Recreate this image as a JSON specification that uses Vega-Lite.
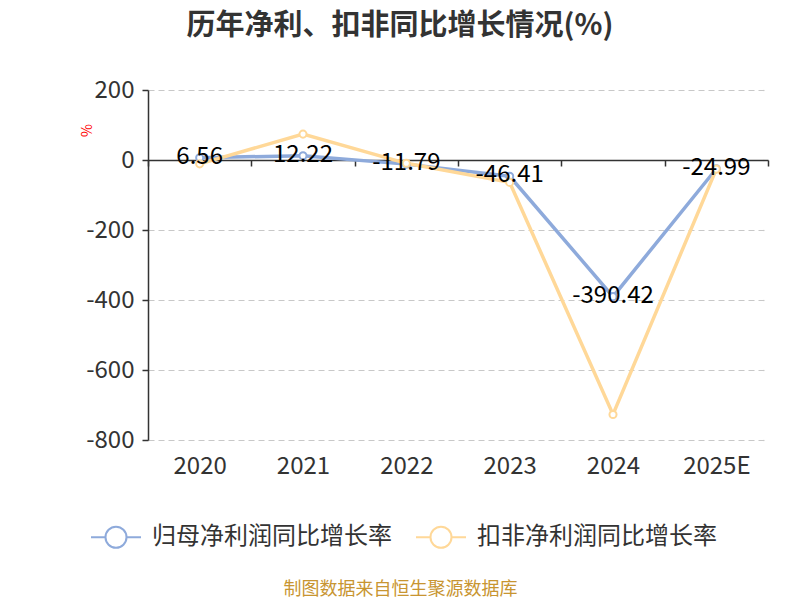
{
  "$schema": "https://vega.github.io/schema/vega-lite/v6.json",
  "width": 620,
  "height": 350,
  "autosize": "none",
  "padding": {"left": 148, "top": 90, "right": 32, "bottom": 160},
  "background": "white",
  "title": {
    "text": "历年净利、扣非同比增长情况(%)",
    "fontSize": 29,
    "fontWeight": "bold",
    "color": "#333333",
    "font": "Noto Sans CJK SC",
    "anchor": "middle",
    "dx": -58,
    "offset": 37
  },
  "config": {
    "view": {"stroke": null},
    "font": "Noto Sans CJK SC"
  },
  "data": {
    "values": [
      {"year": "2020", "series": "归母净利润同比增长率", "value": 6.56, "label": "6.56"},
      {"year": "2021", "series": "归母净利润同比增长率", "value": 12.22, "label": "12.22"},
      {"year": "2022", "series": "归母净利润同比增长率", "value": -11.79, "label": "-11.79"},
      {"year": "2023", "series": "归母净利润同比增长率", "value": -46.41, "label": "-46.41"},
      {"year": "2024", "series": "归母净利润同比增长率", "value": -390.42, "label": "-390.42"},
      {"year": "2025E", "series": "归母净利润同比增长率", "value": -24.99, "label": "-24.99"},
      {"year": "2020", "series": "扣非净利润同比增长率", "value": -11, "label": ""},
      {"year": "2021", "series": "扣非净利润同比增长率", "value": 74, "label": ""},
      {"year": "2022", "series": "扣非净利润同比增长率", "value": -9.5, "label": ""},
      {"year": "2023", "series": "扣非净利润同比增长率", "value": -64, "label": ""},
      {"year": "2024", "series": "扣非净利润同比增长率", "value": -727, "label": ""},
      {"year": "2025E", "series": "扣非净利润同比增长率", "value": -26, "label": ""}
    ]
  },
  "encoding": {
    "x": {
      "field": "year",
      "type": "ordinal",
      "sort": null,
      "bandPosition": 0.5,
      "scale": {"type": "band", "paddingInner": 0, "paddingOuter": 0},
      "axis": {
        "title": "制图数据来自恒生聚源数据库",
        "titleColor": "#c89531",
        "titleFontSize": 18,
        "titleFontWeight": "normal",
        "titleX": 252,
        "titleY": 429,
        "titleAlign": "center",
        "titleBaseline": "middle",
        "titleAnchor": null,
        "offset": -280,
        "labelAngle": 0,
        "labelFontSize": 24,
        "labelColor": "#333333",
        "labelPadding": 288,
        "tickBand": "extent",
        "tickSize": 6,
        "tickColor": "#333333",
        "tickWidth": 1.5,
        "domainColor": "#333333",
        "domainWidth": 1.5,
        "grid": false
      }
    },
    "y": {
      "field": "value",
      "type": "quantitative",
      "scale": {"domain": [-800, 200], "nice": false, "zero": false},
      "axis": {
        "values": [-800, -600, -400, -200, 0, 200],
        "labelExpr": "replace(datum.label, '\u2212', '-')",
        "title": "%",
        "titleColor": "#ff0000",
        "titleFontSize": 14,
        "titleFontWeight": "normal",
        "titleX": -61,
        "titleY": 40,
        "titleAngle": -90,
        "titleAlign": "center",
        "titleBaseline": "middle",
        "titleAnchor": null,
        "labelFontSize": 24,
        "labelColor": "#333333",
        "labelPadding": 8,
        "tickSize": 6,
        "tickColor": "#333333",
        "tickWidth": 1.5,
        "domainColor": "#333333",
        "domainWidth": 1.5,
        "grid": true,
        "gridColor": "#c8c8c8",
        "gridDash": [6, 4],
        "gridWidth": 1.2
      }
    }
  },
  "layer": [
    {
      "mark": {"type": "line", "strokeWidth": 3.5},
      "encoding": {
        "color": {
          "field": "series",
          "type": "nominal",
          "sort": null,
          "scale": {
            "domain": ["归母净利润同比增长率", "扣非净利润同比增长率"],
            "range": ["#8eaadb", "#ffd898"]
          },
          "legend": {
            "orient": "none",
            "legendX": -58,
            "legendY": 421,
            "direction": "horizontal",
            "title": null,
            "labelFontSize": 24,
            "labelColor": "#333333",
            "labelOffset": 10,
            "labelLimit": 0,
            "columnPadding": 20,
            "symbolType": "M-1,0L-0.42,0M0.42,0L1,0M0.42,0A0.42,0.42,0,1,1,-0.42,0A0.42,0.42,0,1,1,0.42,0",
            "symbolSize": 2500,
            "symbolStrokeWidth": 2,
            "symbolFillColor": "white"
          }
        }
      }
    },
    {
      "mark": {"type": "point", "filled": true, "fill": "white", "size": 50, "strokeWidth": 2, "opacity": 1},
      "encoding": {
        "stroke": {
          "field": "series",
          "type": "nominal",
          "sort": null,
          "scale": {
            "domain": ["归母净利润同比增长率", "扣非净利润同比增长率"],
            "range": ["#8eaadb", "#ffd898"]
          },
          "legend": null
        }
      }
    },
    {
      "transform": [{"filter": "datum.label != ''"}],
      "mark": {"type": "text", "fontSize": 24, "color": "#000000", "baseline": "middle", "dy": -1},
      "encoding": {"text": {"field": "label"}}
    }
  ]
}
